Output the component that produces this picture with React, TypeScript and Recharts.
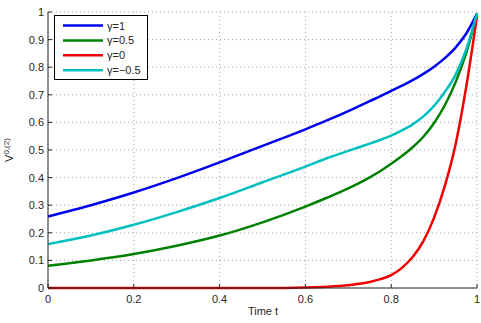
import React from 'react';
import { LineChart, Line, XAxis, YAxis, CartesianGrid, Legend } from 'recharts';

// Sample times and solution values for each gamma
const timePoints = [0, 0.1, 0.2, 0.3, 0.4, 0.5, 0.6, 0.65, 0.7, 0.725, 0.75, 0.775, 0.8, 0.825, 0.85, 0.875, 0.9, 0.925, 0.95, 0.975, 1];
const gammaOne = [0.259, 0.3, 0.346, 0.398, 0.455, 0.515, 0.575, 0.607, 0.641, 0.659, 0.677, 0.695, 0.714, 0.733, 0.753, 0.776, 0.802, 0.833, 0.871, 0.922, 0.994];
const gammaHalf = [0.081, 0.1, 0.123, 0.153, 0.19, 0.238, 0.295, 0.327, 0.361, 0.38, 0.401, 0.424, 0.45, 0.478, 0.51, 0.548, 0.598, 0.662, 0.745, 0.852, 0.994];
const gammaZero = [0, 0, 0, 0, 0, 0, 0.002, 0.0046, 0.01, 0.015, 0.022, 0.032, 0.047, 0.073, 0.112, 0.17, 0.255, 0.37, 0.52, 0.73, 0.985];
const gammaNegHalf = [0.159, 0.19, 0.229, 0.275, 0.326, 0.383, 0.44, 0.47, 0.497, 0.51, 0.523, 0.537, 0.552, 0.571, 0.593, 0.622, 0.66, 0.71, 0.772, 0.865, 0.994];

const seriesKeys = ['g1', 'g05', 'g0', 'gm05'];
const seriesNames = ['γ=1', 'γ=0.5', 'γ=0', 'γ=−0.5'];
const seriesColors = ['#0000f0', '#008000', '#f00000', '#00bfbf'];

const xTicks = [0, 0.2, 0.4, 0.6, 0.8, 1];
const yTicks = [0, 0.1, 0.2, 0.3, 0.4, 0.5, 0.6, 0.7, 0.8, 0.9, 1];

const data = timePoints.map((t, i) => ({
  t,
  g1: gammaOne[i],
  g05: gammaHalf[i],
  g0: gammaZero[i],
  gm05: gammaNegHalf[i],
}));

const FONT = '"Liberation Sans", Arial, Helvetica, sans-serif';
const INK = '#262626';

const YTick = (props: any) => {
  const { x, y, payload } = props;
  return (
    <g>
      <line x1={x + 4} x2={x + 8} y1={y} y2={y} stroke={INK} strokeWidth={1} />
      <text x={x} y={y + 4} textAnchor="end" fontSize={11} fontFamily={FONT} fill={INK}>
        {String(payload.value)}
      </text>
    </g>
  );
};

const XTick = (props: any) => {
  const { x, y, payload } = props;
  return (
    <g>
      <line x1={x} x2={x} y1={y - 4} y2={y - 8} stroke={INK} strokeWidth={1} />
      <text x={x} y={y + 10.5} textAnchor="middle" fontSize={11} fontFamily={FONT} fill={INK}>
        {String(payload.value)}
      </text>
    </g>
  );
};

const renderYLabel = () => (
  <text transform="translate(13,150) rotate(-90)" textAnchor="middle" fontFamily={FONT} fontSize={11} fill={INK}>
    V
    <tspan fontSize={8} dy={-4}>0,(2)</tspan>
  </text>
);

const renderXLabel = () => (
  <text x={263} y={314.5} textAnchor="middle" fontFamily={FONT} fontSize={11} fill={INK}>
    Time t
  </text>
);

const renderLegend = () => (
  <div
    style={{
      width: 94,
      height: 65,
      border: '1px solid #000',
      background: '#fff',
      boxSizing: 'border-box',
    }}
  >
    <svg width={92} height={63} style={{ display: 'block' }}>
      {seriesNames.map((name, i) => (
        <g key={name}>
          <line x1={8} x2={48} y1={9.5 + i * 14.9} y2={9.5 + i * 14.9} stroke={seriesColors[i]} strokeWidth={2.5} />
          <text x={52} y={13.5 + i * 14.9} fontFamily={FONT} fontSize={11} fill={INK}>
            {name}
          </text>
        </g>
      ))}
    </svg>
  </div>
);

export default function App() {
  return (
    <div style={{ position: 'absolute', left: 0, top: 0, width: 481, height: 323, background: '#fff' }}>
      <LineChart width={481} height={323} data={data} margin={{ top: 12, right: 4, bottom: 0, left: 0 }}>
        <CartesianGrid stroke="#a8a8a8" strokeDasharray="1 3" />
        <XAxis
          dataKey="t"
          type="number"
          domain={[0, 1]}
          ticks={xTicks}
          height={35}
          tickSize={0}
          tickMargin={4}
          tickLine={false}
          stroke={INK}
          tick={<XTick />}
          interval={0}
          label={renderXLabel}
        />
        <YAxis
          type="number"
          domain={[0, 1]}
          ticks={yTicks}
          width={48}
          tickSize={0}
          tickMargin={4}
          tickLine={false}
          stroke={INK}
          tick={<YTick />}
          interval={0}
          label={renderYLabel}
        />
        <Legend
          layout="vertical"
          verticalAlign="middle"
          align="center"
          content={renderLegend}
          wrapperStyle={{ left: 54, top: 15, width: 94, height: 65 }}
        />
        {seriesKeys.map((k, i) => (
          <Line
            key={k}
            dataKey={k}
            name={seriesNames[i]}
            type="monotone"
            stroke={seriesColors[i]}
            strokeWidth={2.5}
            dot={false}
            isAnimationActive={false}
          />
        ))}
      </LineChart>
    </div>
  );
}
